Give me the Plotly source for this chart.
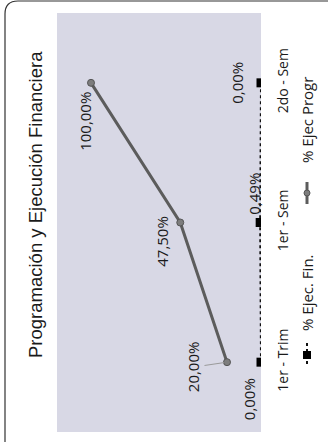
import plotly.graph_objects as go

categories = ["1er - Trim", "1er - Sem", "2do - Sem"]
ejec_progr = [0.20, 0.475, 1.00]
ejec_fin = [0.0, 0.0049, 0.0]
series_names = ["% Ejec Progr", "% Ejec. Fin."]
title_text = "Programación y Ejecución Financiera"

def pct(v):
    return f"{v*100:.2f}%".replace(".", ",")

W, H = 328, 442
L, R, T, B = 57, 261, 13, 432  # plot area in pixels

def px(x):
    return (x - L) / (R - L)

def py(y):
    return (B - y) / (B - T)

fig = go.Figure()
fig.add_trace(go.Scatter(
    x=ejec_progr, y=categories, mode="lines+markers", name=series_names[0],
    line=dict(color="#5c5c5c", width=3),
    marker=dict(symbol="circle", size=7, color="#7d7d7d", line=dict(color="#555", width=1)),
    showlegend=False))
fig.add_trace(go.Scatter(
    x=ejec_fin, y=categories, mode="lines+markers", name=series_names[1],
    line=dict(color="#111", width=2, dash="dot"),
    marker=dict(symbol="square", size=9, color="#000"),
    showlegend=False))

lbl_font = dict(family="Open Sans", size=15, color="#1a1a1a")
progr_shift = [(-34, -5), (-19, -19), (-6, -39)]
fin_shift = [(-12, -37), (-7, 29), (-24, 0)]
for i, c in enumerate(categories):
    if i == 0:
        # label dragged away from its point, with a faint leader line
        fig.add_annotation(x=ejec_progr[i], y=c, text=pct(ejec_progr[i]), textangle=-90,
                           showarrow=True, arrowhead=0, arrowwidth=1, arrowcolor="#9a9a9a",
                           ax=progr_shift[i][0], ay=-progr_shift[i][1], standoff=3,
                           font=lbl_font)
    else:
        fig.add_annotation(x=ejec_progr[i], y=c, text=pct(ejec_progr[i]), textangle=-90,
                           showarrow=False, xshift=progr_shift[i][0], yshift=progr_shift[i][1],
                           font=lbl_font)
    fig.add_annotation(x=ejec_fin[i], y=c, text=pct(ejec_fin[i]), textangle=-90,
                       showarrow=False, xshift=fin_shift[i][0], yshift=fin_shift[i][1],
                       font=lbl_font)

# title
fig.add_annotation(xref="paper", yref="paper", x=px(36), y=py(205), text=title_text,
                   textangle=-90, showarrow=False, xanchor="center", yanchor="middle",
                   font=dict(family="Liberation Sans", size=18.5, color="#1a1a1a"))

# legend (rotated)
leg_font = dict(family="Open Sans", size=15, color="#1a1a1a")
fig.add_annotation(xref="paper", yref="paper", x=px(307), y=py(293), text=series_names[1],
                   textangle=-90, showarrow=False, xanchor="center", yanchor="middle", font=leg_font)
fig.add_annotation(xref="paper", yref="paper", x=px(307), y=py(120), text=series_names[0],
                   textangle=-90, showarrow=False, xanchor="center", yanchor="middle", font=leg_font)
fig.add_shape(type="line", xref="paper", yref="paper", x0=px(307), x1=px(307), y0=py(343), y1=py(367),
              line=dict(color="#111", width=2, dash="dot"))
fig.add_shape(type="rect", xref="paper", yref="paper", x0=px(303), x1=px(311), y0=py(351), y1=py(359),
              fillcolor="#000", line=dict(width=0))
fig.add_shape(type="line", xref="paper", yref="paper", x0=px(307), x1=px(307), y0=py(182), y1=py(204),
              line=dict(color="#5c5c5c", width=3))
fig.add_shape(type="circle", xref="paper", yref="paper", x0=px(304), x1=px(310), y0=py(190), y1=py(196),
              fillcolor="#7d7d7d", line=dict(color="#555", width=1))

# chart border (rounded corner, continues beyond the picture)
path = (f"M {px(5)},{py(460)} L {px(5)},{py(14)} Q {px(5)},{py(1)} {px(18)},{py(1)} "
        f"L {px(345)},{py(1)}")
fig.add_shape(type="path", xref="paper", yref="paper", path=path,
              line=dict(color="#333", width=1.2), layer="above")

fig.update_xaxes(range=[1.2, 0], showgrid=False, zeroline=False, showticklabels=False,
                 showline=False, ticks="")
fig.update_yaxes(type="category", categoryarray=categories, categoryorder="array",
                 range=[-0.5, 2.5], side="right", tickangle=-90, showgrid=False, zeroline=False,
                 showline=False, ticks="", ticklabelstandoff=12,
                 tickfont=dict(family="Open Sans", size=14, color="#1a1a1a"))
fig.update_layout(width=W, height=H, margin=dict(l=L, r=W - R, t=T, b=H - B),
                  paper_bgcolor="white", plot_bgcolor="#d8d8e5", showlegend=False)

fig.write_html("out.html", config={"displayModeBar": False},
               post_script="document.body.style.margin='0';document.body.style.overflow='hidden';")
